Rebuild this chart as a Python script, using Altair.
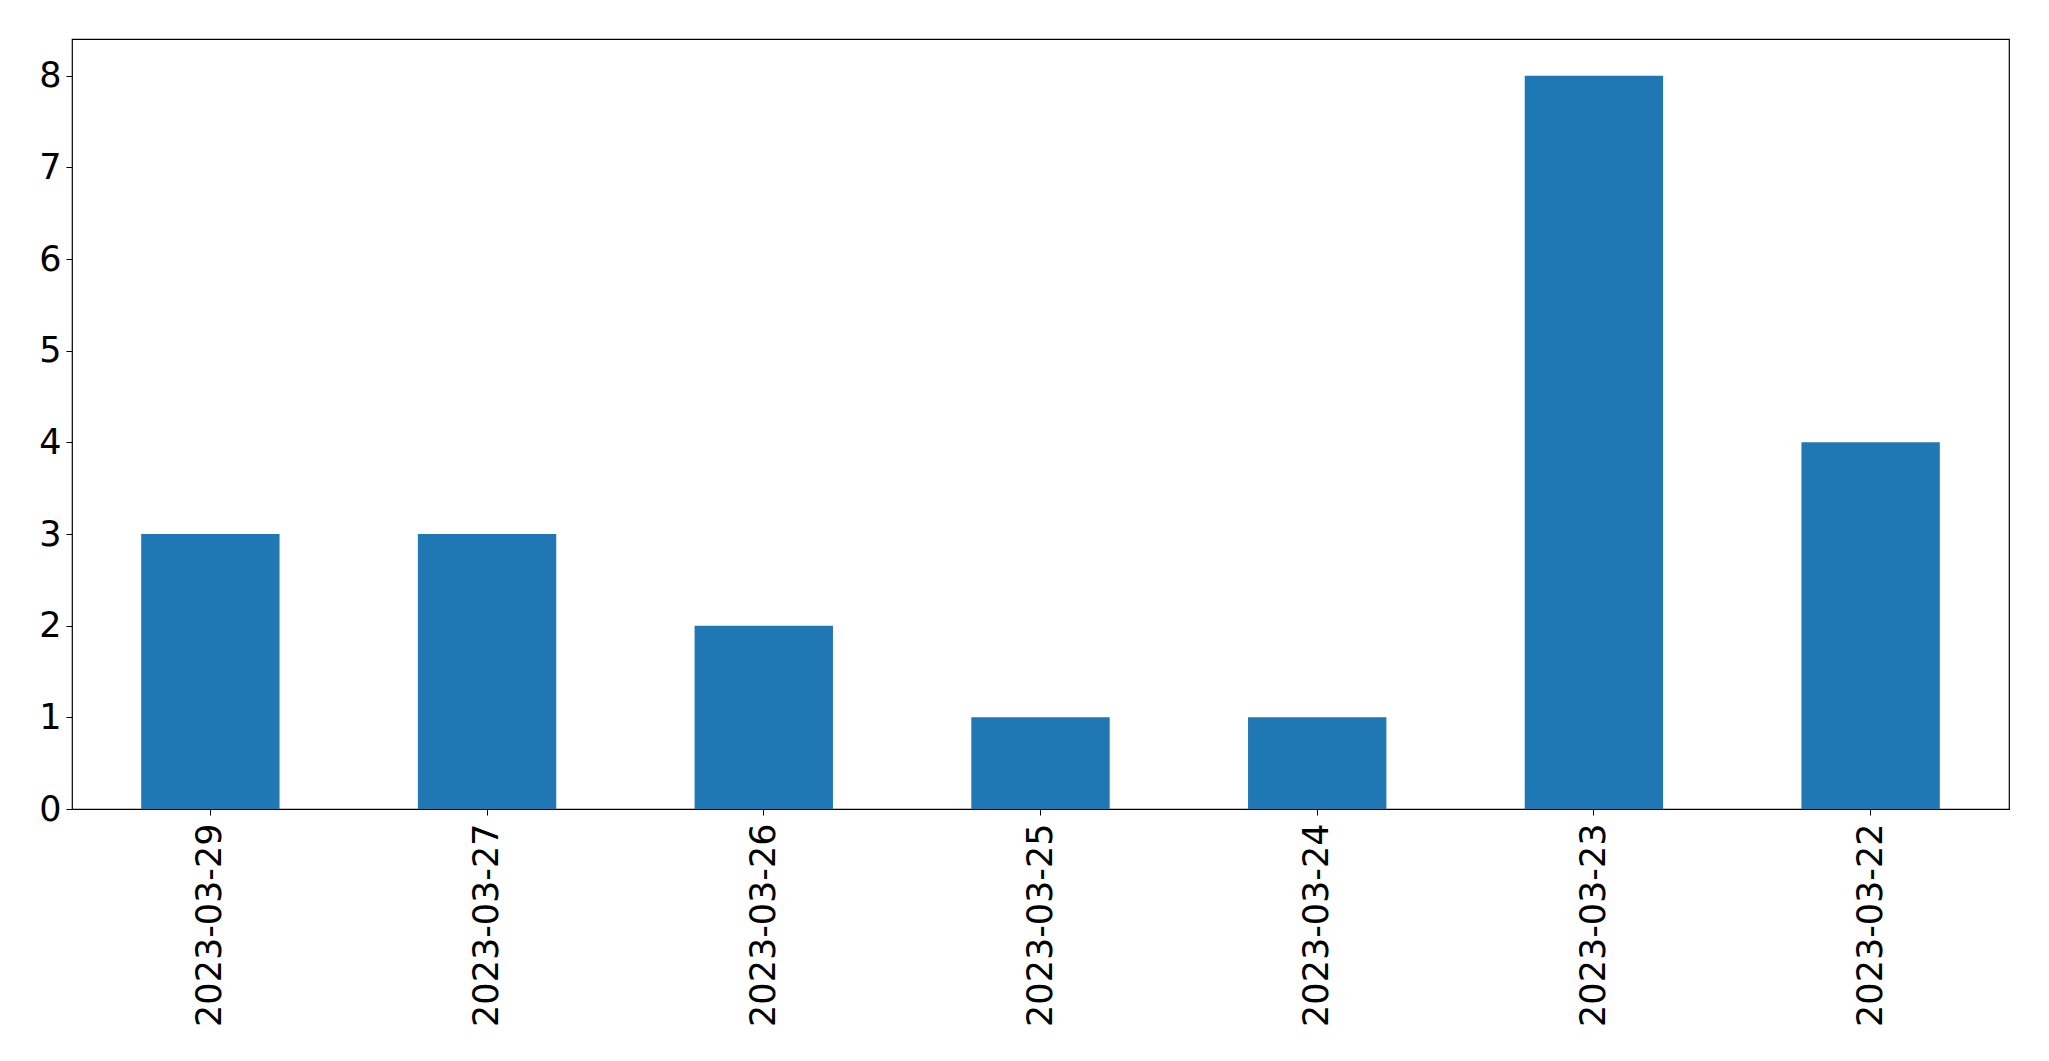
import altair as alt
import pandas as pd

dates = ["2023-03-29", "2023-03-27", "2023-03-26", "2023-03-25", "2023-03-24", "2023-03-23", "2023-03-22"]
counts = [3, 3, 2, 1, 1, 8, 4]

df = pd.DataFrame({"date": dates, "count": counts})

FONT = "DejaVu Sans"
FS = 35

chart = alt.Chart(df).mark_bar(color="#1f77b4").encode(
    x=alt.X("date:N", sort=None, title=None,
            scale=alt.Scale(paddingInner=0.5, paddingOuter=0.25),
            axis=alt.Axis(labelAngle=-90, labelAlign="right", labelBaseline="middle",
                          labelFont=FONT, labelFontSize=FS, labelColor="black",
                          labelLimit=0, labelOverlap=False,
                          tickColor="black", tickSize=6, tickWidth=1,
                          domain=False, labelPadding=8, grid=False)),
    y=alt.Y("count:Q", title=None,
            scale=alt.Scale(domain=[0, 8.4], nice=False, zero=True),
            axis=alt.Axis(values=list(range(0, 9)), format="d",
                          labelFont=FONT, labelFontSize=FS, labelColor="black",
                          tickColor="black", tickSize=6, tickWidth=1,
                          domain=False, labelPadding=5, grid=False)),
).properties(
    width=1937,
    height=770,
    background="white",
    autosize=alt.AutoSizeParams(type="none"),
    padding={"left": 72, "top": 39, "right": 40, "bottom": 252},
).configure_view(
    stroke="black", strokeWidth=1.2
)

chart.save("out.html", embed_options={"renderer": "svg", "actions": False})
